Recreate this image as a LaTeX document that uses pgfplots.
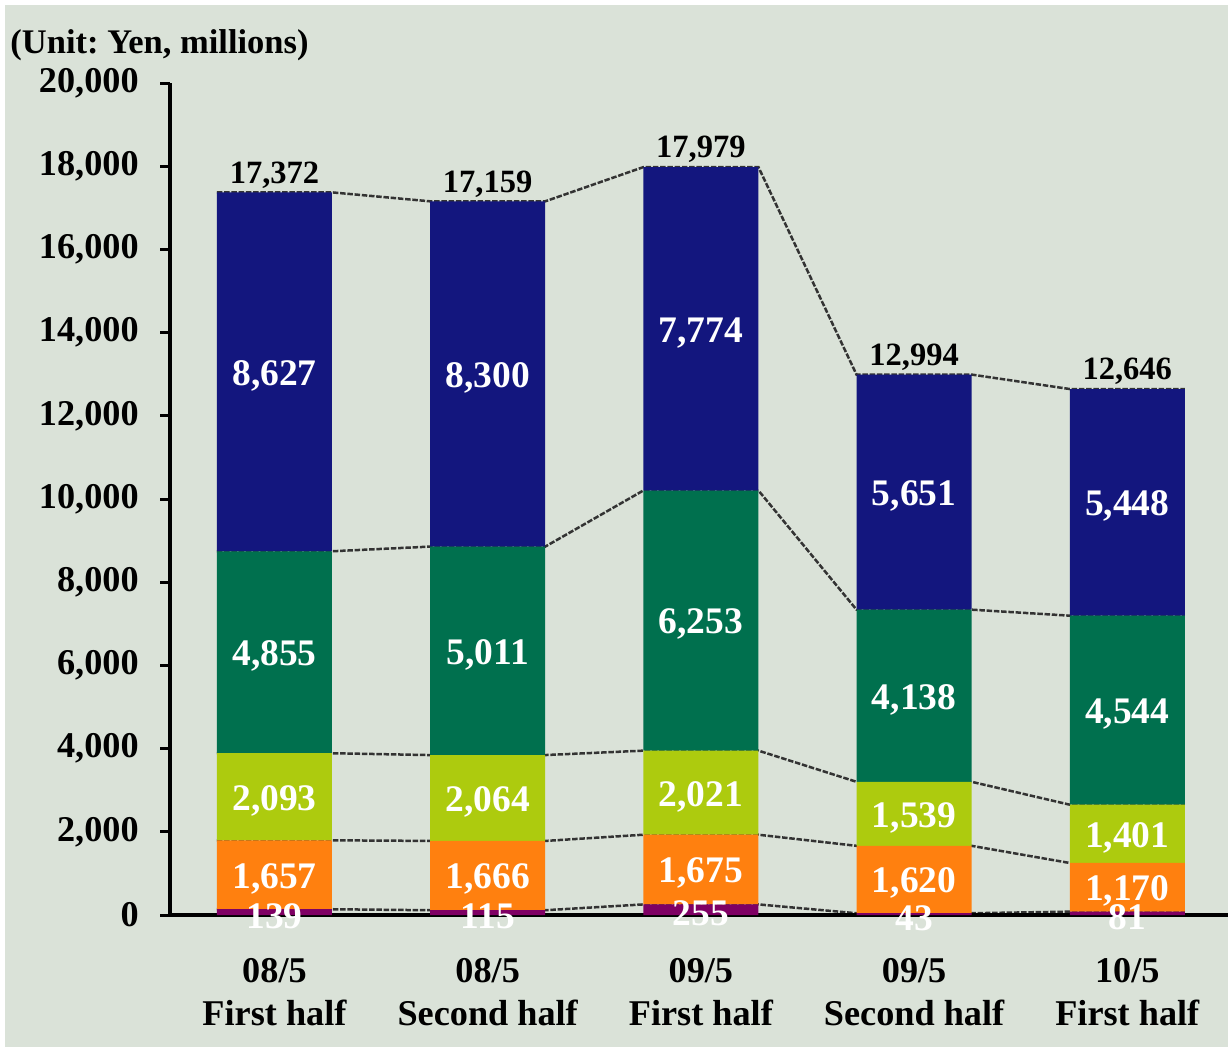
\documentclass[border=0pt]{standalone}
\usepackage{fontspec}
\setmainfont{Liberation Serif}
\usepackage{pgfplots}
\usepackage{pgfplotstable}
\pgfplotsset{compat=1.18}

\definecolor{bg}{HTML}{DAE2D8}
\definecolor{cpur}{HTML}{7F0064}
\definecolor{corg}{HTML}{FF800F}
\definecolor{cyel}{HTML}{ADCB0E}
\definecolor{cgrn}{HTML}{00704E}
\definecolor{cnav}{HTML}{13167E}

% segment values per half year, bottom to top; t = printed total
\pgfplotstableread{
x p o y g n t
0 139 1657 2093 4855 8627 17372
1 115 1666 2064 5011 8300 17159
2 255 1675 2021 6253 7774 17979
3 43 1620 1539 4138 5651 12994
4 81 1170 1401 4544 5448 12646
}\data

% same values at the left and right edge of each bar, for the dashed connectors
\pgfplotstableread{
x p o y g n
-0.27 139 1657 2093 4855 8627
0.27 139 1657 2093 4855 8627
0.73 115 1666 2064 5011 8300
1.27 115 1666 2064 5011 8300
1.73 255 1675 2021 6253 7774
2.27 255 1675 2021 6253 7774
2.73 43 1620 1539 4138 5651
3.27 43 1620 1539 4138 5651
3.73 81 1170 1401 4544 5448
4.27 81 1170 1401 4544 5448
}\edges

\pgfplotsset{
  base/.style={
    at={(68pt,52.8pt)}, anchor=south west,
    scale only axis, width=423pt, height=332.8pt,
    xmin=-0.49, xmax=4.47, ymin=0, ymax=20000,
  },
  conn/.style={draw=black!80, line width=1pt, dash pattern=on 2.2pt off 0.7pt, mark=none, sharp plot},
  lbl/.style={only marks, mark=none, nodes near coords, point meta=explicit,
    every node near coord/.append style={anchor=center, text=white, yshift=-1.5pt,
      font=\fontsize{15pt}{17pt}\selectfont\bfseries}},
}

\begin{document}
\begin{tikzpicture}
\fill[white] (0,0) rectangle (491.2pt,418.8pt);
\fill[bg] (2pt,0) rectangle (491.2pt,416.6pt);
\useasboundingbox (0,0) rectangle (491.2pt,418.8pt);

% dashed connectors between segment boundaries
\begin{axis}[base, hide axis, stack plots=y]
\addplot[conn] table[x=x,y=p]{\edges};
\addplot[conn] table[x=x,y=o]{\edges};
\addplot[conn] table[x=x,y=y]{\edges};
\addplot[conn] table[x=x,y=g]{\edges};
\addplot[conn] table[x=x,y=n]{\edges};
\end{axis}

\begin{axis}[base,
  ybar stacked, bar width=46pt,
  axis x line=bottom, axis y line=left,
  axis line style={-, line width=1.3pt, black},
  tick style={black, line width=1.2pt},
  tick align=outside,
  ytick={0,2000,...,20000},
  major tick length=4pt,
  xtick={0,...,4}, x tick style={draw=none},
  minor xtick={0.5,1.5,2.5,3.5},
  minor tick length=3pt,
  minor x tick style={yshift=3pt},
  xticklabels={{08/5\\First half},{08/5\\Second half},{09/5\\First half},{09/5\\Second half},{10/5\\First half}},
  xticklabel style={align=center, font=\fontsize{14.5pt}{17.2pt}\selectfont\bfseries, yshift=-10pt},
  yticklabel style={font=\fontsize{14.5pt}{16pt}\selectfont\bfseries, xshift=-5pt},
  scaled y ticks=false,
  /pgf/number format/.cd, 1000 sep={,}, assume math mode=true,
]
\addplot[fill=cpur, draw=none] table[x=x,y=p]{\data};
\addplot[fill=corg, draw=none] table[x=x,y=o]{\data};
\addplot[fill=cyel, draw=none] table[x=x,y=y]{\data};
\addplot[fill=cgrn, draw=none] table[x=x,y=g]{\data};
\addplot[fill=cnav, draw=none] table[x=x,y=n]{\data};
\end{axis}

% value labels at the middle of each segment, totals above each bar
\begin{axis}[base, hide axis, stack plots=y,
  /pgf/number format/.cd, 1000 sep={,}, assume math mode=true]
\addplot[lbl] table[x=x, y expr=\thisrow{p}/2, meta=p]{\data};
\addplot[lbl] table[x=x, y expr=(\thisrow{p}+\thisrow{o})/2, meta=o]{\data};
\addplot[lbl] table[x=x, y expr=(\thisrow{o}+\thisrow{y})/2, meta=y]{\data};
\addplot[lbl] table[x=x, y expr=(\thisrow{y}+\thisrow{g})/2, meta=g]{\data};
\addplot[lbl] table[x=x, y expr=(\thisrow{g}+\thisrow{n})/2, meta=n]{\data};
\addplot[only marks, mark=none, nodes near coords, point meta=explicit,
  every node near coord/.append style={anchor=south, text=black, inner sep=1.5pt,
    font=\fontsize{13pt}{15pt}\selectfont\bfseries}]
  table[x=x, y expr=\thisrow{n}/2, meta=t]{\data};
\end{axis}

\node[anchor=west, font=\fontsize{13.8pt}{16pt}\selectfont\bfseries, inner sep=0pt]
  at (4pt,400.6pt) {(Unit:\ Yen, millions)};
\end{tikzpicture}
\end{document}
